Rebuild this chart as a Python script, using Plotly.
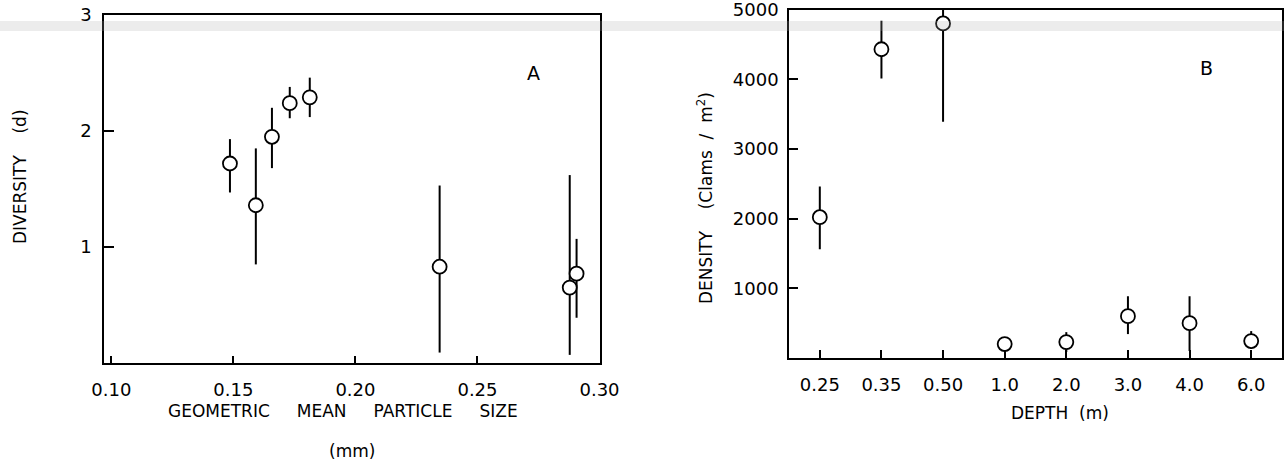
import plotly.graph_objects as go

# ---- Panel A data: diversity vs geometric mean particle size ----
size_mm = [0.1486, 0.1592, 0.1658, 0.1731, 0.1813, 0.2345, 0.2878, 0.2906]
diversity = [1.72, 1.36, 1.95, 2.24, 2.29, 0.83, 0.65, 0.77]
div_err_plus = [0.21, 0.49, 0.25, 0.14, 0.17, 0.70, 0.97, 0.30]
div_err_minus = [0.25, 0.51, 0.27, 0.13, 0.17, 0.74, 0.58, 0.38]

# ---- Panel B data: density vs depth ----
depth_labels = ["0.25", "0.35", "0.50", "1.0", "2.0", "3.0", "4.0", "6.0"]
density = [2020, 4430, 4800, 200, 228, 600, 500, 243]
dens_err_plus = [440, 410, 200, 0, 143, 286, 386, 143]
dens_err_minus = [460, 420, 1410, 0, 142, 257, 400, 114]

W, H = 1284, 469
FONT = "DejaVu Sans"

def px_x(p):
    return p / W

def px_y(p):
    return 1 - p / H

fig = go.Figure()

fig.add_trace(go.Scatter(
    x=size_mm, y=diversity, mode="markers",
    marker=dict(symbol="circle", size=14, color="white",
                line=dict(color="black", width=1.8)),
    error_y=dict(type="data", symmetric=False, array=div_err_plus,
                 arrayminus=div_err_minus, width=0, thickness=2, color="black"),
    xaxis="x", yaxis="y", showlegend=False,
))

fig.add_trace(go.Scatter(
    x=depth_labels, y=density, mode="markers",
    marker=dict(symbol="circle", size=14, color="white",
                line=dict(color="black", width=1.8)),
    error_y=dict(type="data", symmetric=False, array=dens_err_plus,
                 arrayminus=dens_err_minus, width=0, thickness=2, color="black"),
    xaxis="x2", yaxis="y2", showlegend=False,
))

axis_common = dict(
    showline=True, linecolor="black", linewidth=1.5, mirror=True,
    ticks="inside", tickcolor="black", tickwidth=1.5,
    showgrid=False, zeroline=False, automargin=False,
    ticklabeloverflow="allow",
    tickfont=dict(family=FONT, size=18, color="black"),
)

fig.update_layout(
    width=W, height=H,
    margin=dict(l=0, r=0, t=0, b=0),
    paper_bgcolor="white", plot_bgcolor="white",
    xaxis=dict(**axis_common, domain=[px_x(104), px_x(600)],
               range=[0.097, 0.3002], tickvals=[0.10, 0.15, 0.20, 0.25, 0.30],
               ticktext=["0.10", "0.15", "0.20", "0.25", "0.30"],
               ticklen=7, ticklabelstandoff=10, anchor="y"),
    yaxis=dict(**axis_common, domain=[px_y(363), px_y(15)],
               range=[0, 3], tickvals=[1, 2, 3], ticktext=["1", "2", "3"],
               ticklen=10, ticklabelstandoff=7, anchor="x"),
    xaxis2=dict(**axis_common, domain=[px_x(789), px_x(1282)],
                type="category", categoryorder="array", categoryarray=depth_labels,
                range=[-0.5, 7.5], ticklen=8, ticklabelstandoff=10, anchor="y2"),
    yaxis2=dict(**axis_common, domain=[px_y(358), px_y(9.5)],
                range=[0, 5000], tickvals=[1000, 2000, 3000, 4000, 5000],
                ticktext=["1000", "2000", "3000", "4000", "5000"],
                ticklen=9, ticklabelstandoff=5, anchor="x2"),
)

title_font = dict(family=FONT, size=17, color="black")
nb4 = "\u00a0" * 4
nb5 = "\u00a0" * 5
annotations = [
    dict(text="DIVERSITY" + nb4 + "(d)", x=px_x(20), y=px_y(177), textangle=-90),
    dict(text="GEOMETRIC" + nb5 + "MEAN" + nb5 + "PARTICLE" + nb5 + "SIZE", x=px_x(343), y=px_y(411)),
    dict(text="(mm)", x=px_x(352), y=px_y(451)),
    dict(text="DENSITY" + nb4 + "(Clams\u00a0\u00a0/\u00a0\u00a0m<sup>2</sup>)", x=px_x(705), y=px_y(198), textangle=-90),
    dict(text="DEPTH" + "\u00a0\u00a0" + "(m)", x=px_x(1060), y=px_y(413)),
]
for a in annotations:
    fig.add_annotation(xref="paper", yref="paper", showarrow=False,
                       xanchor="center", yanchor="middle", font=title_font, **a)

fig.add_annotation(text="A", x=px_x(533), y=px_y(60), xref="paper", yref="paper",
                   showarrow=False, font=dict(family=FONT, size=19, color="black"))
fig.add_annotation(text="B", x=px_x(1215), y=px_y(55), xref="paper", yref="paper",
                   showarrow=False, font=dict(family=FONT, size=19, color="black"))

# faint scan band across the top
fig.add_shape(type="rect", xref="paper", yref="paper",
              x0=0, x1=1, y0=px_y(31), y1=px_y(21),
              fillcolor="rgba(170,170,170,0.22)", line=dict(width=0), layer="above")

fig.write_html("out.html", config={"displayModeBar": False},
               post_script="document.body.style.margin='0';")
